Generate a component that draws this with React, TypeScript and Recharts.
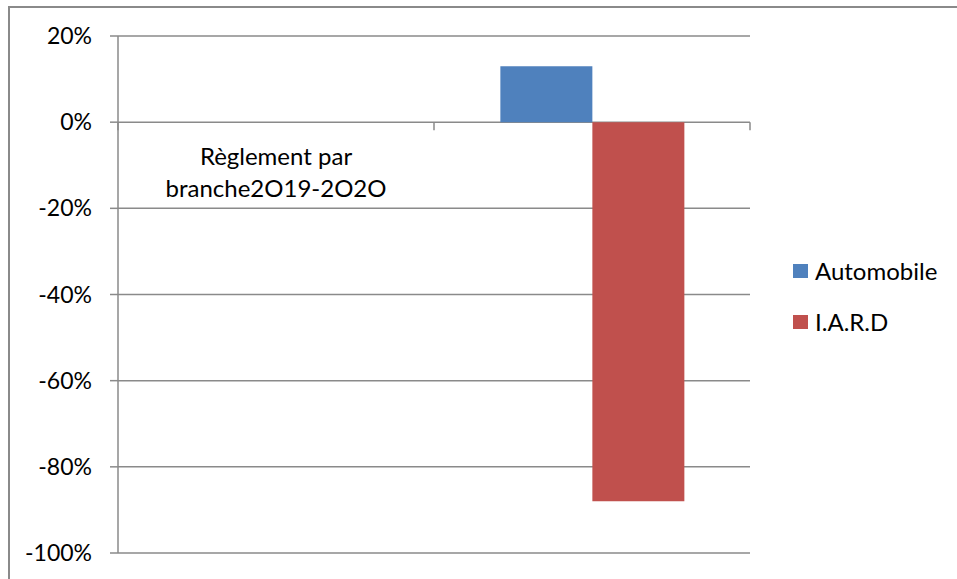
import { BarChart, Bar, XAxis, YAxis, CartesianGrid, Legend } from 'recharts';

const categories = ['Règlement par branche2O19-2O2O', ''];
const automobile = [null, 13];
const iard = [null, -88];
const yTicks = [20, 0, -20, -40, -60, -80, -100];

const data = categories.map((name, i) => ({
  name,
  automobile: automobile[i],
  iard: iard[i],
}));

const FONT = 'Lato, "Open Sans", sans-serif';
const GRAY = '#8a8a8a';
const PLOT_TOP = 36;
const PLOT_BOTTOM = 553;
const Y_MIN = -100;
const Y_MAX = 20;

// the category axis crosses at 0, so draw it there
const zeroY = PLOT_TOP + ((PLOT_BOTTOM - PLOT_TOP) * Y_MAX) / (Y_MAX - Y_MIN);

function renderCategoryTick(props: any) {
  const { x, payload, index } = props;
  const half = payload && payload.offset ? payload.offset : 158;
  const label: string = (payload && payload.value) || '';
  const cut = label.lastIndexOf(' ');
  const lines = cut > 0 ? [label.slice(0, cut), label.slice(cut + 1)] : label ? [label] : [];
  return (
    <g key={`cat-${index}`}>
      {index === 0 && (
        <line x1={x - half} x2={x - half} y1={zeroY} y2={zeroY + 8} stroke={GRAY} strokeWidth={1.5} />
      )}
      <line x1={x + half} x2={x + half} y1={zeroY} y2={zeroY + 8} stroke={GRAY} strokeWidth={1.5} />
      {lines.map((l, i) => (
        <text key={i} x={x} y={zeroY + 43 + i * 32} textAnchor="middle" fontSize={24} fontFamily={FONT} fill="#000">
          {l}
        </text>
      ))}
    </g>
  );
}

function LegendBox(props: any) {
  const { payload } = props;
  return (
    <div style={{ width: 207, paddingLeft: 43, boxSizing: 'border-box', fontFamily: FONT }}>
      {payload.map((item: any) => (
        <div key={item.value} style={{ height: 25, marginBottom: 26, display: 'flex', alignItems: 'center' }}>
          <span style={{ width: 15, height: 14, background: item.color, display: 'inline-block', marginRight: 7 }} />
          <span style={{ fontSize: 24, color: '#000' }}>{item.value}</span>
        </div>
      ))}
    </div>
  );
}

export default function App() {
  return (
    <div style={{ position: 'absolute', left: 0, top: 0, width: 957, height: 579, overflow: 'hidden', background: '#fff' }}>
      <div
        style={{
          position: 'absolute',
          left: 8,
          top: 6,
          width: 1000,
          height: 1000,
          border: `2px solid ${GRAY}`,
          boxSizing: 'border-box',
        }}
      />
      <div style={{ position: 'absolute', left: 0, top: 0 }}>
        <BarChart
          width={957}
          height={579}
          data={data}
          margin={{ top: PLOT_TOP, right: 0, bottom: 579 - PLOT_BOTTOM - 20, left: 0 }}
          barCategoryGap="21%"
          barGap={0}
        >
          <CartesianGrid vertical={false} stroke={GRAY} strokeWidth={1.5} />
          <XAxis
            dataKey="name"
            height={20}
            axisLine={false}
            tickLine={false}
            tick={renderCategoryTick}
            interval={0}
          />
          <YAxis
            width={118}
            domain={[Y_MIN, Y_MAX]}
            ticks={yTicks}
            interval={0}
            tickFormatter={(v) => `${v}%`}
            axisLine={{ stroke: GRAY, strokeWidth: 1.5 }}
            tickLine={{ stroke: GRAY, strokeWidth: 1.5 }}
            tickSize={8}
            tickMargin={18}
            tick={{ fontSize: 23, fontFamily: FONT, fill: '#000' }}
          />
          <Legend
            layout="vertical"
            align="right"
            verticalAlign="middle"
            content={<LegendBox />}
            wrapperStyle={{ top: 258, right: 0, width: 207 }}
          />
          <Bar dataKey="automobile" name="Automobile" fill="#4F81BD" isAnimationActive={false} />
          <Bar dataKey="iard" name="I.A.R.D" fill="#C0504D" isAnimationActive={false} />
        </BarChart>
      </div>
    </div>
  );
}
